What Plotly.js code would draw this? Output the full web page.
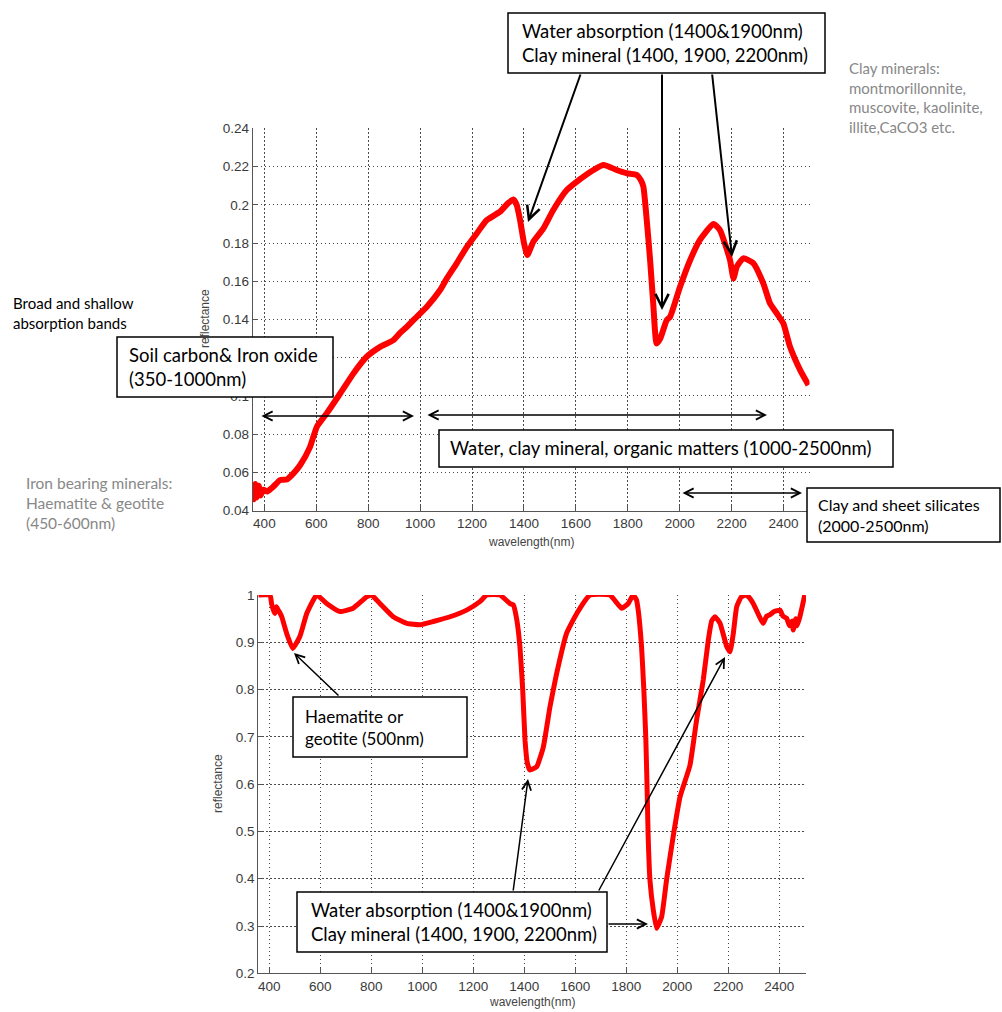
<!DOCTYPE html>
<html>
<head>
<meta charset="utf-8">
<script src="https://cdn.plot.ly/plotly-3.0.1.min.js"></script>
<style>
  html, body { margin: 0; padding: 0; background: #ffffff; }
  #chart { width: 1002px; height: 1012px; }
</style>
</head>
<body>
<div id="chart"></div>
<script>
// Soil reflectance spectrum (upper panel)
const topWavelength = [355, 360, 365, 370, 378, 385, 396, 410, 434, 460, 486, 512, 538, 576, 602, 640, 692, 743, 794, 846, 897, 923, 949, 974, 1026, 1077, 1103, 1141, 1180, 1218, 1257, 1308, 1340, 1359, 1372, 1385, 1400, 1413, 1436, 1475, 1513, 1565, 1629, 1706, 1757, 1796, 1834, 1850, 1860, 1873, 1886, 1898, 1911, 1925, 1950, 1963, 2001, 2040, 2078, 2130, 2155, 2194, 2207, 2220, 2245, 2284, 2322, 2348, 2374, 2399, 2425, 2464, 2496];
const topReflectance = [0.052, 0.046, 0.054, 0.047, 0.053, 0.048, 0.051, 0.050, 0.0525, 0.056, 0.0563, 0.0595, 0.0639, 0.0734, 0.0839, 0.0909, 0.1013, 0.1118, 0.1205, 0.1257, 0.1292, 0.1330, 0.1362, 0.1397, 0.1467, 0.1554, 0.1615, 0.1694, 0.1780, 0.1850, 0.1920, 0.1964, 0.2010, 0.2028, 0.2000, 0.1920, 0.1800, 0.1737, 0.1807, 0.1877, 0.1973, 0.2077, 0.2147, 0.2208, 0.2182, 0.2165, 0.2156, 0.2130, 0.2095, 0.1920, 0.1710, 0.1484, 0.1275, 0.1300, 0.1397, 0.1414, 0.1570, 0.1710, 0.1816, 0.1900, 0.1868, 0.1710, 0.1615, 0.1676, 0.1720, 0.1694, 0.1589, 0.1484, 0.1432, 0.1380, 0.1257, 0.1135, 0.1057];

// Continuum-removed spectrum (lower panel)
const bottomWavelength = [357, 403, 409, 415, 422, 428, 435, 442, 449, 468, 492, 520, 547, 586, 625, 677, 729, 782, 801, 834, 886, 939, 991, 1043, 1109, 1174, 1226, 1253, 1305, 1344, 1357, 1370, 1383, 1394, 1403, 1412, 1422, 1449, 1475, 1501, 1527, 1566, 1606, 1658, 1736, 1782, 1808, 1827, 1840, 1847, 1860, 1869, 1877, 1882, 1886, 1893, 1906, 1919, 1939, 1958, 1984, 2011, 2050, 2076, 2102, 2122, 2135, 2148, 2168, 2194, 2207, 2220, 2233, 2250, 2266, 2280, 2298, 2337, 2350, 2363, 2380, 2403, 2415, 2429, 2440, 2450, 2455, 2465, 2470, 2481, 2490, 2500];
const bottomReflectance = [1.0, 1.0, 0.982, 0.970, 0.961, 0.975, 0.968, 0.962, 0.954, 0.919, 0.887, 0.912, 0.961, 1.0, 0.982, 0.965, 0.972, 0.996, 1.0, 0.982, 0.954, 0.940, 0.937, 0.944, 0.954, 0.968, 0.986, 1.0, 1.0, 0.982, 0.979, 0.950, 0.891, 0.799, 0.693, 0.645, 0.630, 0.637, 0.679, 0.764, 0.834, 0.919, 0.961, 1.0, 1.0, 0.972, 0.982, 1.0, 0.990, 0.968, 0.891, 0.800, 0.693, 0.587, 0.489, 0.397, 0.334, 0.295, 0.320, 0.397, 0.489, 0.573, 0.640, 0.736, 0.820, 0.905, 0.945, 0.954, 0.940, 0.891, 0.880, 0.919, 0.975, 0.995, 1.0, 0.996, 0.982, 0.940, 0.955, 0.958, 0.965, 0.968, 0.955, 0.951, 0.935, 0.945, 0.926, 0.950, 0.935, 0.954, 0.975, 1.0];

// Tick values
const wavelengthTicks = [400, 600, 800, 1000, 1200, 1400, 1600, 1800, 2000, 2200, 2400];
const topReflectanceTicks = [0.04, 0.06, 0.08, 0.1, 0.12, 0.14, 0.16, 0.18, 0.2, 0.22, 0.24];
const bottomReflectanceTicks = [0.2, 0.3, 0.4, 0.5, 0.6, 0.7, 0.8, 0.9, 1];

const W = 1002, H = 1012;
const px = x => x / W;
const py = y => 1 - y / H;

const TICK_FONT = { family: 'Liberation Sans, Arial, sans-serif', size: 13.5, color: '#3a3a3a' };
const NOTE_FONT = 'Lato, Calibri, sans-serif';

function axisStyle(extra) {
  return Object.assign({
    showline: true, linecolor: '#555', linewidth: 1,
    ticks: 'inside', ticklen: 5, tickcolor: '#555', tickwidth: 1,
    showgrid: true, gridcolor: '#4a4a4a', griddash: '1.2px,2.8px', gridwidth: 1,
    zeroline: false, tickfont: TICK_FONT, fixedrange: true,
    mirror: false
  }, extra);
}

const traces = [
  { x: topWavelength, y: topReflectance, xaxis: 'x', yaxis: 'y', type: 'scatter', mode: 'lines',
    line: { color: '#ff0000', width: 6, shape: 'spline', smoothing: 0.5 }, hoverinfo: 'skip' },
  { x: bottomWavelength, y: bottomReflectance, xaxis: 'x2', yaxis: 'y2', type: 'scatter', mode: 'lines',
    line: { color: '#ff0000', width: 5, shape: 'spline', smoothing: 0.4 }, hoverinfo: 'skip' }
];

const shapes = [];
const annotations = [];

// Framed note: white rectangle (page pixels) with left-aligned text inside
function boxNote(text, x0, y0, x1, y1, textLeft, size) {
  shapes.push({
    type: 'rect', xref: 'paper', yref: 'paper', layer: 'above',
    x0: px(x0), x1: px(x1), y0: py(y1), y1: py(y0),
    fillcolor: '#ffffff', line: { color: '#000000', width: 1.5 }
  });
  annotations.push({
    xref: 'paper', yref: 'paper', x: px(textLeft), y: py((y0 + y1) / 2),
    xanchor: 'left', yanchor: 'middle', text: text, showarrow: false, align: 'left',
    borderpad: 0, font: { family: NOTE_FONT, size: size, color: '#000' }
  });
}
function freeNote(text, x0, y0, size, color) {
  annotations.push({
    xref: 'paper', yref: 'paper', x: px(x0), y: py(y0), xanchor: 'left', yanchor: 'top',
    text: text, showarrow: false, align: 'left', borderpad: 0,
    font: { family: NOTE_FONT, size: size, color: color }
  });
}
// Arrow from tail (tx, ty) to head (hx, hy), page pixels
function arrow(tx, ty, hx, hy, width, both, size) {
  const a = {
    xref: 'paper', yref: 'paper', x: px(hx), y: py(hy), ax: tx - hx, ay: ty - hy,
    text: '', showarrow: true, arrowhead: 5, arrowsize: size || 1.2, arrowwidth: width,
    arrowcolor: '#000', standoff: 0, startstandoff: 0
  };
  if (both) { a.arrowside = 'end+start'; a.startarrowhead = 5; a.startarrowsize = size || 1.2; }
  annotations.push(a);
}
function axisTitle(text, x, y, angle) {
  annotations.push({
    xref: 'paper', yref: 'paper', x: px(x), y: py(y), xanchor: 'center', yanchor: 'middle',
    text: text, showarrow: false, textangle: angle,
    font: { family: 'Liberation Sans, Arial, sans-serif', size: 12, color: '#444' }
  });
}

axisTitle('reflectance', 205, 319, -90);
axisTitle('wavelength(nm)', 531, 542, 0);
axisTitle('reflectance', 218, 784, -90);
axisTitle('wavelength(nm)', 532, 1002, 0);

// upper panel notes
arrow(581, 73, 528, 222, 2, false, 1.3);
arrow(662, 73, 662, 310, 2, false, 1.3);
arrow(712, 73, 732, 257, 2, false, 1.3);
boxNote('Water absorption (1400&amp;1900nm)<br>Clay mineral (1400, 1900, 2200nm)', 508, 13, 825, 73, 521, 18.5);
freeNote('Clay minerals:<br>montmorillonnite,<br>muscovite, kaolinite,<br>illite,CaCO3 etc.', 848, 58, 15, '#888');
freeNote('Broad and shallow<br>absorption bands', 12, 293, 15, '#000');
boxNote('Soil carbon&amp; Iron oxide<br>(350-1000nm)', 117, 337, 333, 397, 128, 18.5);
arrow(260, 416, 414, 416, 1.5, true);
arrow(426, 415, 767, 415, 1.5, true);
boxNote('Water, clay mineral, organic matters (1000-2500nm)', 439, 430, 893, 467, 449, 18.5);
freeNote('Iron bearing minerals:<br>Haematite &amp; geotite<br>(450-600nm)', 25, 473, 15.5, '#888');
arrow(681, 493, 802, 493, 1.5, true);
boxNote('Clay and sheet silicates<br>(2000-2500nm)', 807, 488, 1000, 542, 817, 16);

// lower panel notes
arrow(340, 697, 294, 653, 1.5, false);
boxNote('Haematite or<br>geotite (500nm)', 293, 697, 467, 757, 304, 17);
arrow(513, 892, 528, 779, 1.5, false);
arrow(598, 892, 725, 657, 1.5, false);
arrow(607, 924, 648, 924, 1.5, false);
boxNote('Water absorption (1400&amp;1900nm)<br>Clay mineral (1400, 1900, 2200nm)', 297, 892, 607, 952, 310, 18.5);

const layout = {
  width: W, height: H,
  margin: { l: 0, r: 0, t: 0, b: 0, pad: 0 },
  paper_bgcolor: '#ffffff', plot_bgcolor: '#ffffff',
  showlegend: false,
  xaxis: axisStyle({ domain: [px(252.7), px(809.5)], range: [355, 2500], tickvals: wavelengthTicks, anchor: 'y' }),
  yaxis: axisStyle({ domain: [py(510.7), py(128.3)], range: [0.04, 0.24], tickvals: topReflectanceTicks, anchor: 'x' }),
  xaxis2: axisStyle({ domain: [px(258.3), px(806)], range: [357, 2505], tickvals: wavelengthTicks, anchor: 'y2' }),
  yaxis2: axisStyle({ domain: [py(973.3), py(595)], range: [0.2, 1], tickvals: bottomReflectanceTicks, anchor: 'x2' }),
  shapes: shapes,
  annotations: annotations
};

Plotly.newPlot('chart', traces, layout, { staticPlot: true, displayModeBar: false });
</script>
</body>
</html>
